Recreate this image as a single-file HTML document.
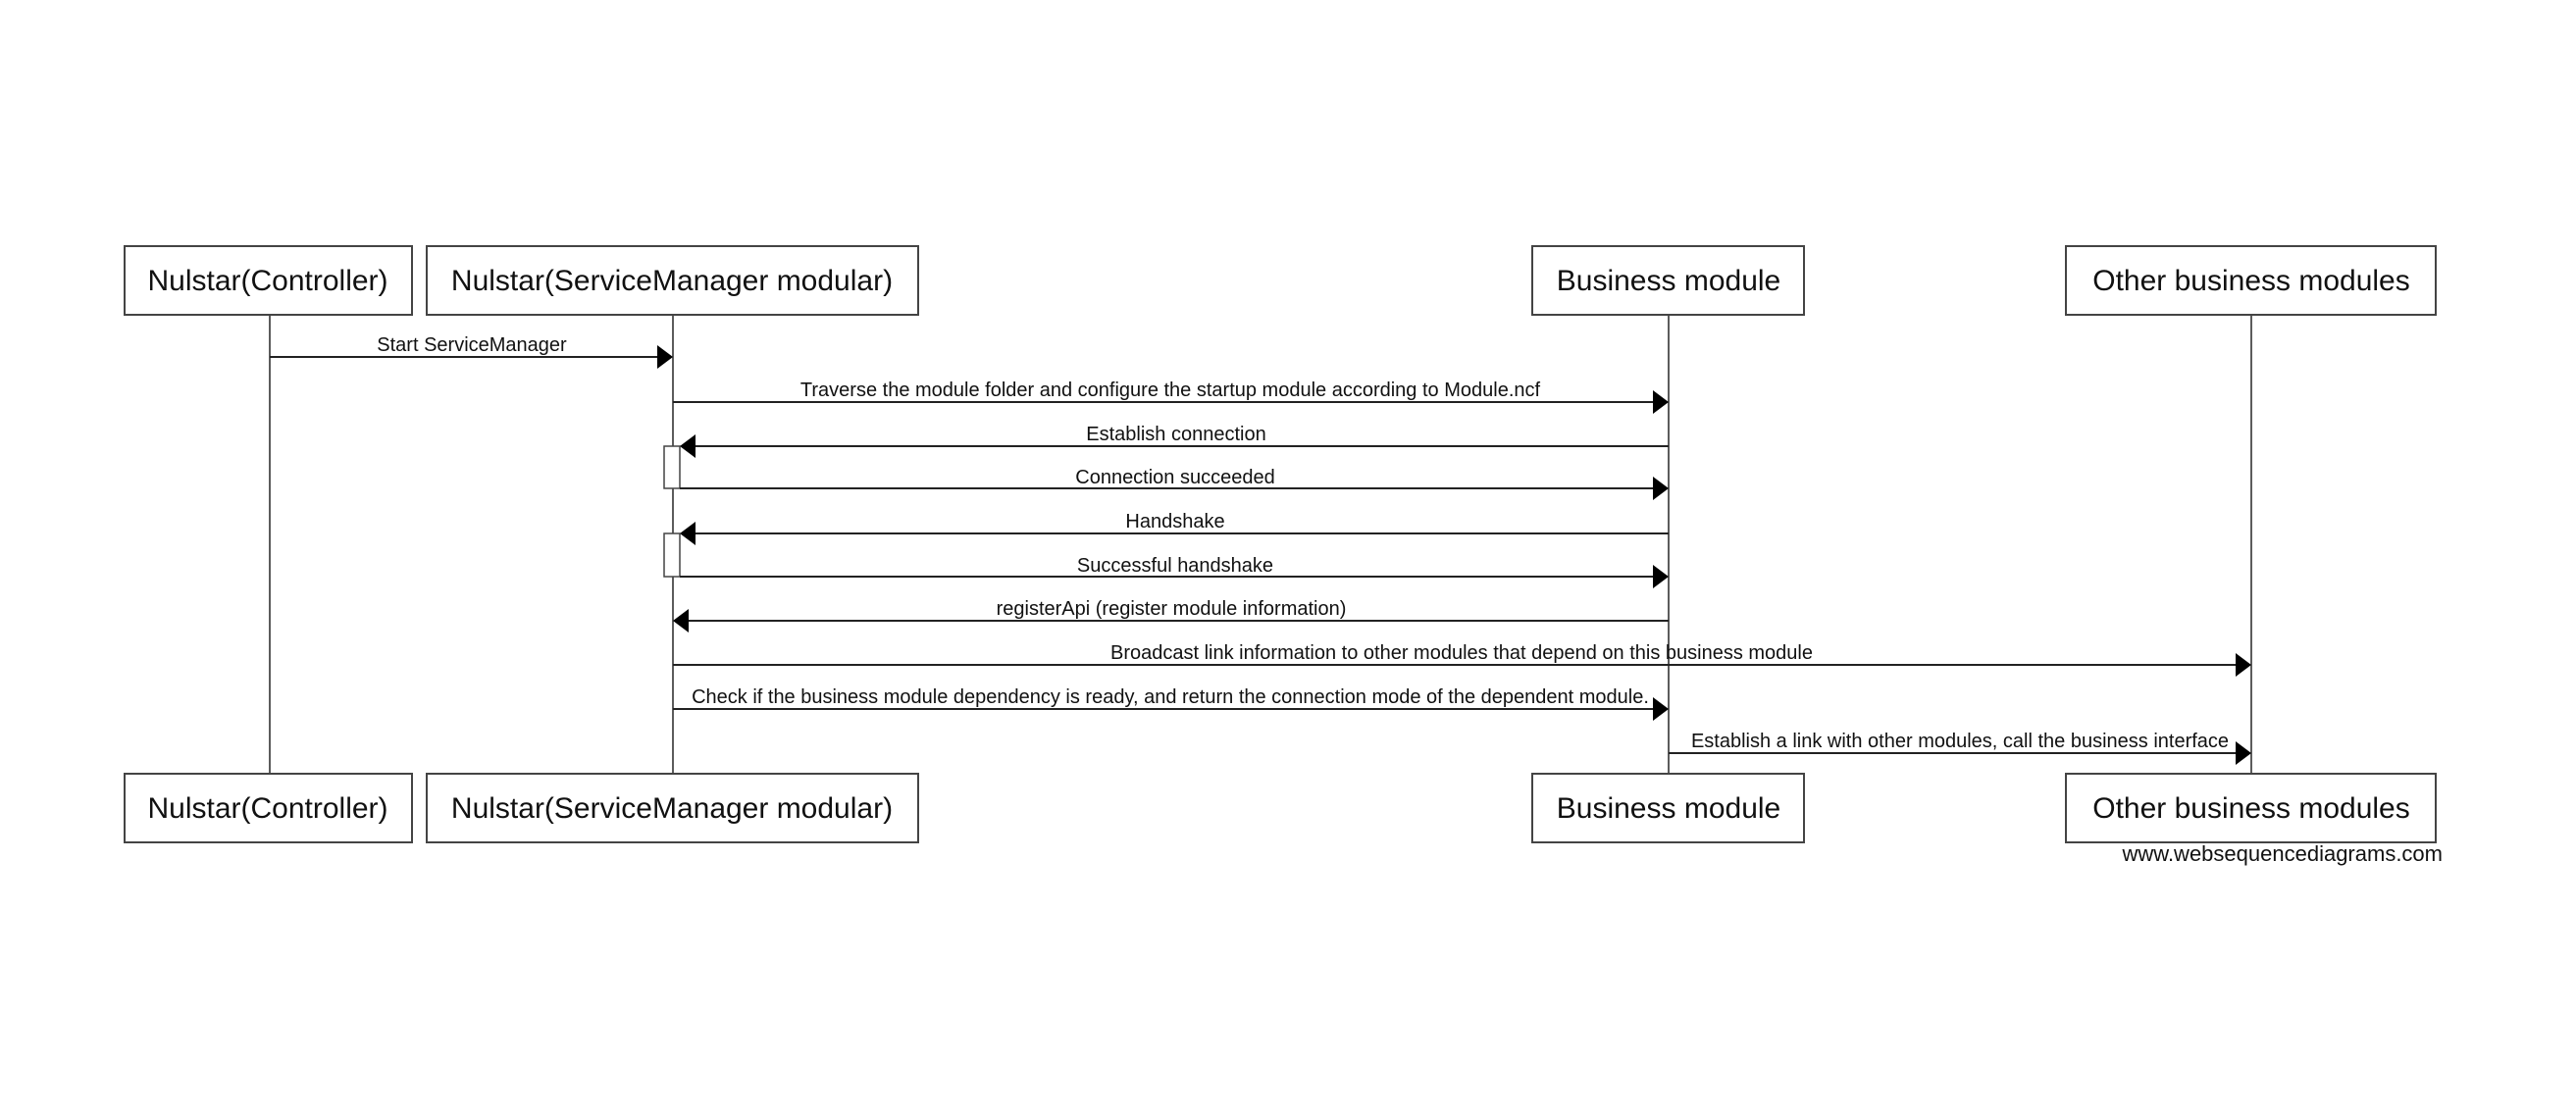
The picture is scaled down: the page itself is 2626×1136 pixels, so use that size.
<!DOCTYPE html>
<html><head><meta charset="utf-8"><style>
html,body{margin:0;padding:0;background:#fff;}
svg{display:block;}
text{font-family:"Liberation Sans",sans-serif;fill:#111;}
</style></head><body>
<svg width="2626" height="1136" viewBox="0 0 2626 1136" xmlns="http://www.w3.org/2000/svg">
<g stroke="#333" stroke-width="1.6">
<line x1="275" y1="320" x2="275" y2="790"/>
<line x1="686" y1="320" x2="686" y2="790"/>
<line x1="1701" y1="320" x2="1701" y2="790"/>
<line x1="2295" y1="320" x2="2295" y2="790"/>
</g>
<g fill="#fff" stroke="#444" stroke-width="2">
<rect x="127" y="251" width="293" height="70"/>
<rect x="435" y="251" width="501" height="70"/>
<rect x="1562" y="251" width="277" height="70"/>
<rect x="2106" y="251" width="377" height="70"/>
<rect x="127" y="789" width="293" height="70"/>
<rect x="435" y="789" width="501" height="70"/>
<rect x="1562" y="789" width="277" height="70"/>
<rect x="2106" y="789" width="377" height="70"/>
<rect x="677" y="455" width="16" height="43" stroke-width="1.5"/>
<rect x="677" y="544" width="16" height="44" stroke-width="1.5"/>
</g>
<g font-size="30" text-anchor="middle">
<text x="273" y="296">Nulstar(Controller)</text>
<text x="685" y="296">Nulstar(ServiceManager modular)</text>
<text x="1701" y="296">Business module</text>
<text x="2295" y="296">Other business modules</text>
<text x="273" y="834">Nulstar(Controller)</text>
<text x="685" y="834">Nulstar(ServiceManager modular)</text>
<text x="1701" y="834">Business module</text>
<text x="2295" y="834">Other business modules</text>
</g>
<g stroke="#222" stroke-width="2">
<line x1="275" y1="364" x2="672" y2="364"/>
<line x1="686" y1="410" x2="1687" y2="410"/>
<line x1="707" y1="455" x2="1701" y2="455"/>
<line x1="693" y1="498" x2="1687" y2="498"/>
<line x1="707" y1="544" x2="1701" y2="544"/>
<line x1="693" y1="588" x2="1687" y2="588"/>
<line x1="700" y1="633" x2="1701" y2="633"/>
<line x1="686" y1="678" x2="2281" y2="678"/>
<line x1="686" y1="723" x2="1687" y2="723"/>
<line x1="1701" y1="768" x2="2281" y2="768"/>
</g>
<g fill="#000">
<polygon points="686,364 670,352 670,376"/>
<polygon points="1701,410 1685,398 1685,422"/>
<polygon points="693,455 709,443 709,467"/>
<polygon points="1701,498 1685,486 1685,510"/>
<polygon points="693,544 709,532 709,556"/>
<polygon points="1701,588 1685,576 1685,600"/>
<polygon points="686,633 702,621 702,645"/>
<polygon points="2295,678 2279,666 2279,690"/>
<polygon points="1701,723 1685,711 1685,735"/>
<polygon points="2295,768 2279,756 2279,780"/>
</g>
<g font-size="20" text-anchor="middle">
<text x="481" y="358">Start ServiceManager</text>
<text x="1193" y="404">Traverse the module folder and configure the startup module according to Module.ncf</text>
<text x="1199" y="449">Establish connection</text>
<text x="1198" y="493">Connection succeeded</text>
<text x="1198" y="538">Handshake</text>
<text x="1198" y="583">Successful handshake</text>
<text x="1194" y="627">registerApi (register module information)</text>
<text x="1490" y="672">Broadcast link information to other modules that depend on this business module</text>
<text x="1193" y="717">Check if the business module dependency is ready, and return the connection mode of the dependent module.</text>
<text x="1998" y="762">Establish a link with other modules, call the business interface</text>
</g>
<text x="2490" y="878" font-size="22" text-anchor="end">www.websequencediagrams.com</text>
</svg>
</body></html>
